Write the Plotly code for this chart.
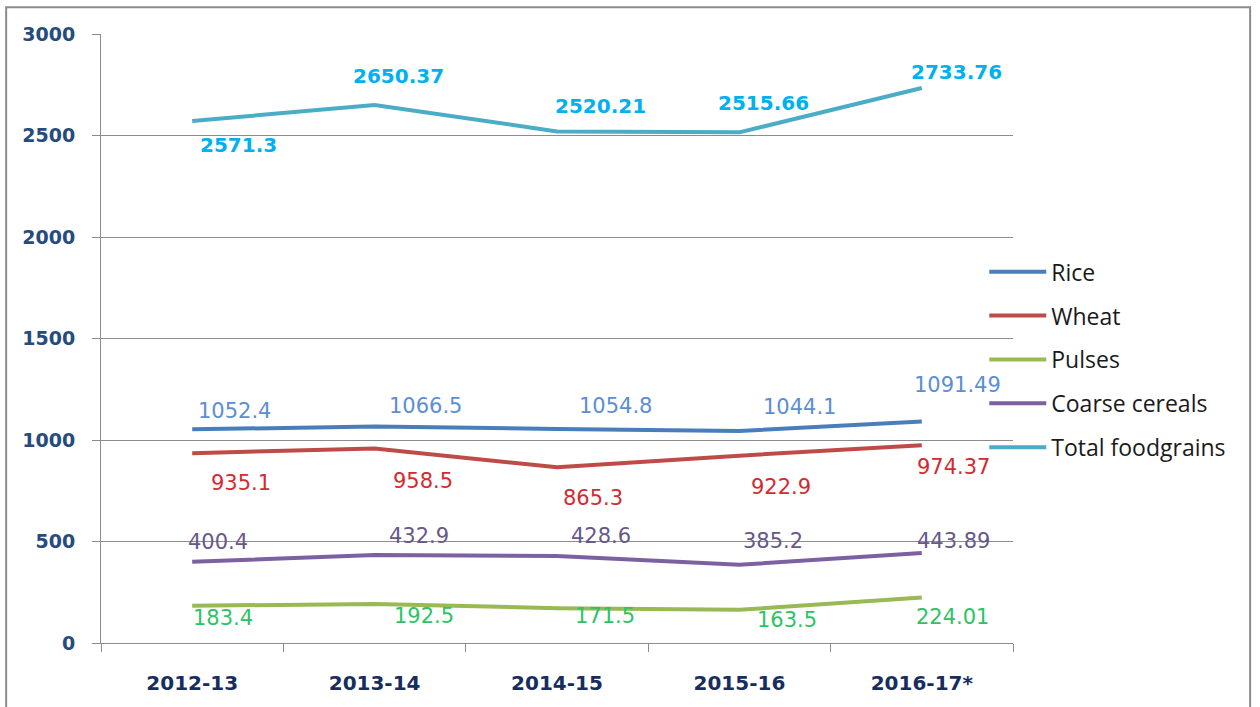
import plotly.graph_objects as go

categories = ["2012-13", "2013-14", "2014-15", "2015-16", "2016-17*"]
rice = [1052.4, 1066.5, 1054.8, 1044.1, 1091.49]
wheat = [935.1, 958.5, 865.3, 922.9, 974.37]
pulses = [183.4, 192.5, 171.5, 163.5, 224.01]
coarse_cereals = [400.4, 432.9, 428.6, 385.2, 443.89]
total_foodgrains = [2571.3, 2650.37, 2520.21, 2515.66, 2733.76]

y_ticks = [0, 500, 1000, 1500, 2000, 2500, 3000]

series = [
    ("Rice", rice, "#4A7EBB", "#5B8ED3", False),
    ("Wheat", wheat, "#BE4B48", "#D42A2E", False),
    ("Pulses", pulses, "#98B954", "#2BC463", False),
    ("Coarse cereals", coarse_cereals, "#7D60A0", "#67588A", False),
    ("Total foodgrains", total_foodgrains, "#4BACC6", "#00B0F0", True),
]

# label offsets in pixels (dx, dy up)
label_offsets = {
    "Total foodgrains": [(46, -24), (24, 29), (43, 25), (24, 29), (35, 16)],
    "Rice": [(42, 18), (51, 21), (58, 23), (60, 24), (36, 36)],
    "Wheat": [(49, -30), (48, -33), (36, -31), (42, -31), (32, -22)],
    "Coarse cereals": [(26, 20), (44, 19), (44, 20), (34, 24), (32, 12)],
    "Pulses": [(31, -12), (49, -12), (48, -8), (48, -10), (31, -19)],
}

fig = go.Figure()
annotations = []
for i, (name, vals, lc, tc, bold) in enumerate(series):
    fig.add_trace(go.Scatter(
        x=categories, y=vals, name=name, mode="lines",
        line=dict(color=lc, width=4),
        legendgroup=f"g{i}", hoverinfo="skip",
    ))
    for j, (c, v) in enumerate(zip(categories, vals)):
        dx, dy = label_offsets[name][j]
        annotations.append(dict(
            x=c, y=v, xref="x", yref="y", text=f"{v:g}", showarrow=False,
            xanchor="center", yanchor="middle", xshift=dx, yshift=dy,
            font=dict(family="DejaVu Sans", size=20 if bold else 21, color=tc,
                      weight="bold" if bold else "normal"),
        ))

fig.update_layout(
    width=1260, height=707,
    margin=dict(l=101, r=247, t=34, b=62),
    paper_bgcolor="white", plot_bgcolor="white",
    showlegend=True,
    legend=dict(
        x=0.9685, xanchor="left", y=0.645, yanchor="top",
        font=dict(family="Open Sans", size=23, color="#1a1a1a"),
        tracegroupgap=11, itemwidth=57, bgcolor="rgba(0,0,0,0)",
    ),
    annotations=annotations,
    shapes=[dict(
        type="rect", xref="paper", yref="paper",
        x0=-0.104, x1=1.26, y0=-0.12, y1=1.044,
        line=dict(color="#8C8C8C", width=2), fillcolor="rgba(0,0,0,0)", layer="below",
    )],
)

fig.update_xaxes(
    type="category", range=[-0.5, 4.5],
    showline=True, linecolor="#8C8C8C", linewidth=1,
    ticks="outside", tickson="boundaries", ticklen=8, tickcolor="#8C8C8C",
    showgrid=False, ticklabelstandoff=22,
    tickfont=dict(family="DejaVu Sans", size=20, color="#172D5E", weight="bold"),
)
fig.update_yaxes(
    range=[0, 3000], tickvals=y_ticks,
    showline=True, linecolor="#8C8C8C", linewidth=1,
    ticks="outside", ticklen=8, tickcolor="#8C8C8C",
    showgrid=True, gridcolor="#8C8C8C", gridwidth=1,
    zeroline=False, ticklabelstandoff=13,
    tickfont=dict(family="DejaVu Sans", size=19, color="#264B7D", weight="bold"),
)

fig.write_html("out.html", config={"displayModeBar": False},
               post_script="document.body.style.margin='0px';")
